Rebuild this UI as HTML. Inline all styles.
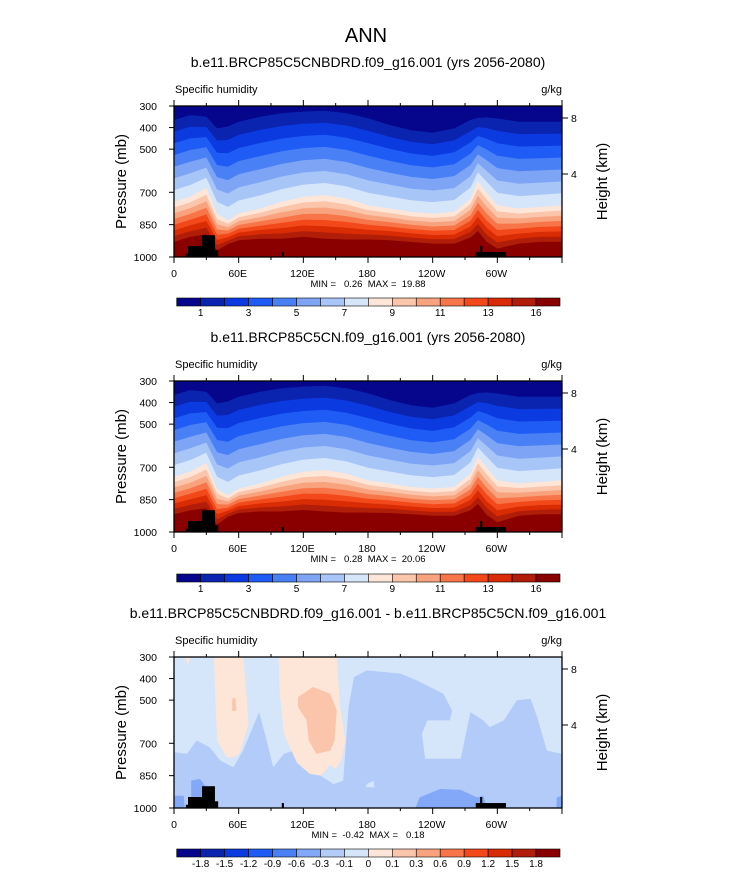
<!DOCTYPE html>
<html><head><meta charset="utf-8"><style>
html,body{margin:0;padding:0;background:#fff;}
svg{display:block;font-family:"Liberation Sans",sans-serif;}
svg text{white-space:pre;}
</style></head><body>
<svg id="fig" width="733" height="888" viewBox="0 0 733 888" xmlns="http://www.w3.org/2000/svg">
<text x="366" y="42" font-size="20" text-anchor="middle">ANN</text>
</svg>
<script>
// ---- data ----
const lons = [0,15,30,40,50,60,80,100,120,140,160,180,200,220,240,260,275,282,290,300,320,340,360];
const upperP = [365,342,350,404,395,373,350,334,326,322,334,357,388,412,424,404,365,355,353,358,373,373,373];
const midP = [744,720,680,800,830,799,775,744,721,713,729,760,775,791,799,791,730,650,700,760,775,768,760];
const lowerP = [930,907,895,969,940,922,915,915,907,915,919,919,922,930,938,938,910,880,930,961,938,930,930];
const lowerP2 = [918,900,890,965,930,912,905,905,898,905,910,910,912,918,925,925,900,870,920,955,925,918,918];
const terrain = [[11,13,985],[13,26,949],[26,38,899],[38,41,969],[100,102,977],[280,308,977],[284,286,949]];
const seqColors = ["#06068c","#0a24b0","#0a3ae0","#1f5cf5","#4a80f5","#7ea5f5","#a8c5f8","#d5e5fa","#fde6d8","#fbc5ab","#f9a27e","#f77548","#f3481a","#d92b04","#b01d08","#8a0000"];
const seqLabels = ["1","","3","","5","","7","","9","","11","","13","","16"];
const diffLabels = ["-1.8","-1.5","-1.2","-0.9","-0.6","-0.3","-0.1","0","0.1","0.3","0.6","0.9","1.2","1.5","1.8"];
const diffColors = ["#06068c","#0a24b0","#0a3ae0","#1f5cf5","#4a80f5","#82a8f7","#b3cbf8","#d5e5fa","#fde6d8","#fbc5ab","#f9a27e","#f77548","#f3481a","#d92b04","#b01d08","#8a0000"];
const diffNeg03 = [[0,741],[12,749],[21,687],[33,718],[43,780],[55,811],[64,734],[79,556],[86,687],[92,811],[102,749],[111,734],[120,811],[129,827],[148,889],[157,873],[162,532],[167,393],[179,362],[210,377],[225,408],[250,470],[258,548],[256,594],[235,594],[230,656],[233,772],[266,772],[275,556],[287,594],[293,625],[306,594],[318,501],[331,494],[337,579],[346,734],[360,749],[360,1000],[0,1000]];
const diffNeg06a = [[0,943],[9,943],[10,1000],[0,1000]];
const diffNeg06b = [[16,1000],[16,873],[24,865],[30,904],[33,1000]];
const diffNeg06c = [[224,1000],[228,951],[247,912],[266,916],[281,951],[287,943],[290,1000]];
const diffNeg06d = [[355,1000],[355,951],[360,943],[360,1000]];
const diffPos01a = [[10,300],[13,339],[15,300]];
const diffPos01b = [[37,300],[64,300],[67,455],[69,610],[61,749],[55,765],[49,765],[40,687],[38,455]];
const diffPos01c = [[97,300],[151,300],[154,532],[159,687],[155,780],[150,820],[145,800],[136,850],[126,842],[114,790],[102,656],[98,455]];
const diffSpot = [[179,889],[185,873],[186,904],[178,904]];
const diffPos03a = [[54,494],[57,489],[58,548],[54,551]];
const diffPos03b = [[115,486],[129,439],[145,470],[151,548],[149,687],[145,734],[132,749],[125,687],[123,594],[115,532]];
const pTicks = [300,400,500,700,850,1000];
const hTicks = [[8,12],[4,68]];
const lonTicks = [0,60,120,180,240,300];
const lonLabels = ["0","60E","120E","180","120W","60W"];

// ---- drawing ----
const NS = "http://www.w3.org/2000/svg";
const svg = document.getElementById("fig");
const X0 = 174, X1 = 562, H = 151;
function mk(tag, attrs, parent){ const e=document.createElementNS(NS,tag); for(const k in attrs) e.setAttribute(k,attrs[k]); (parent||svg).appendChild(e); return e; }
function xs(lon){ return X0 + lon/360*(X1-X0); }
function panel(top, title, minmax, kind, cbTop, pid){
  const ys = p => top + (p-300)/700*H;
  const g = mk("g",{});
  
  
  let t = mk("text",{x:368,y:top-39,"font-size":14,"text-anchor":"middle"},g); t.textContent=title;
  
  
  t = mk("text",{x:0,y:0,transform:"translate("+(X0+1)+","+(top-13)+")","font-size":11,"text-anchor":"start"},g); t.textContent="Specific humidity";
  
  
  t = mk("text",{x:X1,y:top-13,"font-size":11,"text-anchor":"end"},g); t.textContent="g/kg";
  
  
  const cp = mk("clipPath",{id:"clip"+pid},g);
  mk("rect",{x:X0,y:top,width:X1-X0,height:H},cp);
  const pg = mk("g",{"clip-path":"url(#clip"+pid+")"},g);
  
  
  const poly = (pts, fill, name) => { const e = mk("polygon",{points:pts.map(q=>xs(q[0]).toFixed(1)+","+ys(q[1]).toFixed(1)).join(" "),fill:fill},pg);
    
     return e; };
  if(kind==="diff"){
    const bg = mk("rect",{x:X0,y:top,width:X1-X0,height:H,fill:diffColors[7]},pg);
    
    
    poly(diffNeg03, diffColors[6], 'diff-band-neg03');
    [diffNeg06a,diffNeg06b,diffNeg06c,diffNeg06d].forEach(r=>poly(r, diffColors[5], 'diff-band-neg06'));
    [diffPos01a,diffPos01b,diffPos01c].forEach(r=>poly(r, diffColors[8], 'diff-band-pos01'));
    poly(diffSpot, diffColors[7], 'diff-band-spot');
    [diffPos03a,diffPos03b].forEach(r=>poly(r, diffColors[9], 'diff-band-pos03'));
  } else {
    const low = kind==="b" ? lowerP2 : lowerP;
    const bg = mk("rect",{x:X0,y:top,width:X1-X0,height:H,fill:seqColors[15]},pg);
    
    
    for(let k=15;k>=1;k--){
      const bnd = lons.map((lo,i)=>{
        let p;
        if(k<=8){ const f=(k-1)/7; p = upperP[i]+(midP[i]-upperP[i])*f; }
        else { const f=(k-8)/7; p = midP[i]+(low[i]-midP[i])*f; }
        return [lo,p];
      });
      const pts = [[0,290]].concat(bnd).concat([[360,290]]);
      poly(pts, seqColors[k-1], 'humidity-band-'+k);
    }
  }
  terrain.forEach(r=>{ const e=mk("rect",{x:xs(r[0]),y:ys(r[2]),width:xs(r[1])-xs(r[0]),height:top+H-ys(r[2])+1,fill:"#000"},pg);
    
     });
  const fr = mk("rect",{x:X0,y:top,width:X1-X0,height:H,fill:"none",stroke:"#000","stroke-width":1.3},g);
  
  
  pTicks.forEach(p=>{
    const l=mk("line",{x1:X0-5,x2:X0,y1:ys(p),y2:ys(p),stroke:"#000"},g);
    
    
    const tt=mk("text",{x:X0-17,y:ys(p)+4,"font-size":10.5,"text-anchor":"end"},g); tt.textContent=p;
    
    
  });
  for(let lo=0;lo<=360;lo+=30){
    const len = lo%60===0?6:3;
    let l=mk("line",{x1:xs(lo),x2:xs(lo),y1:top+H,y2:top+H+len,stroke:"#000"},g);
    
    
    l=mk("line",{x1:xs(lo),x2:xs(lo),y1:top,y2:top-len,stroke:"#000"},g);
    
    
  }
  lonTicks.forEach((lo,i)=>{
    const tt=mk("text",{x:xs(lo)+(i===0?0:-1),y:top+H+20,"font-size":10.5,"text-anchor":"middle"},g); tt.textContent=lonLabels[i];
    
    
  });
  hTicks.forEach(h=>{
    const l=mk("line",{x1:X1,x2:X1+6,y1:top+h[1],y2:top+h[1],stroke:"#000"},g);
    
    
    const tt=mk("text",{x:X1+9,y:top+h[1]+4,"font-size":10.5},g); tt.textContent=h[0];
    
    
  });
  t = mk("text",{x:0,y:0,"font-size":15,"text-anchor":"middle",transform:"translate(126,"+(top+H/2)+") rotate(-90)"},g); t.textContent="Pressure (mb)";
  
  
  t = mk("text",{x:0,y:0,"font-size":15,"text-anchor":"middle",transform:"translate(607,"+(top+H/2)+") rotate(-90)"},g); t.textContent="Height (km)";
  
  
  t = mk("text",{x:368,y:top+H+30,"font-size":9.5,"text-anchor":"middle"},g); t.textContent=minmax;
  
  
  // colorbar
  const cols = kind==="diff"?diffColors:seqColors, labs = kind==="diff"?diffLabels:seqLabels;
  const cb0=176.7, cw=(560-176.7)/16;
  const cbg = mk("g",{},g);
  
  
  cols.forEach((c,i)=>{ const r=mk("rect",{x:cb0+i*cw,y:cbTop,width:cw,height:8,fill:c,stroke:"#000","stroke-width":0.6},cbg);
    
     });
  labs.forEach((s,i)=>{ if(!s) return; const tt=mk("text",{x:cb0+(i+1)*cw,y:cbTop+18,"font-size":10,"text-anchor":"middle"},cbg); tt.textContent=s;
    
     });
}
panel(106,"b.e11.BRCP85C5CNBDRD.f09_g16.001 (yrs 2056-2080)","MIN =   0.26  MAX =  19.88","a",298,"p1");
panel(381,"b.e11.BRCP85C5CN.f09_g16.001 (yrs 2056-2080)","MIN =   0.28  MAX =  20.06","b",574,"p2");
panel(657,"b.e11.BRCP85C5CNBDRD.f09_g16.001 - b.e11.BRCP85C5CN.f09_g16.001","MIN =  -0.42  MAX =   0.18","diff",849,"p3");
</script>
</body></html>
